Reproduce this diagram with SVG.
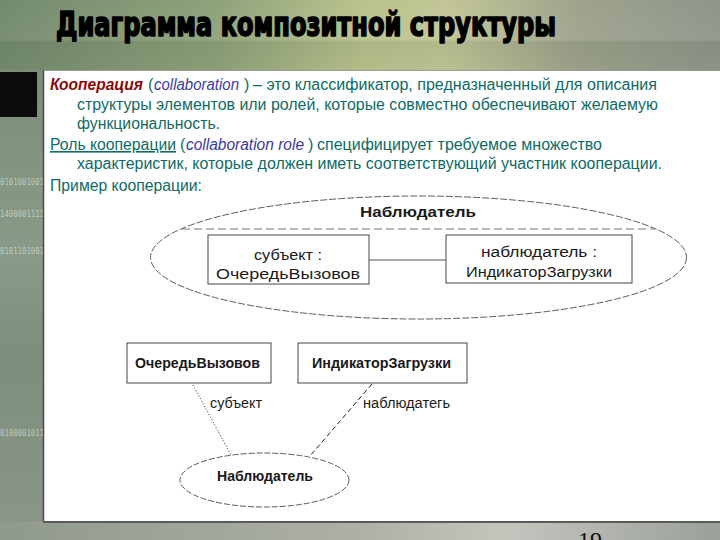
<svg xmlns="http://www.w3.org/2000/svg" width="720" height="540" viewBox="0 0 720 540">
<defs>
<linearGradient id="bgH" x1="0" y1="0" x2="1" y2="0">
<stop offset="0" stop-color="#738a6e"/>
<stop offset="0.3" stop-color="#8ea27a"/>
<stop offset="0.5" stop-color="#b9c28c"/>
<stop offset="0.62" stop-color="#c2c696"/>
<stop offset="0.8" stop-color="#9ea38c"/>
<stop offset="1" stop-color="#8e968a"/>
</linearGradient>
<linearGradient id="bandV" x1="0" y1="0" x2="0" y2="1">
<stop offset="0" stop-color="#ffffff" stop-opacity="0"/>
<stop offset="0.55" stop-color="#ffffff" stop-opacity="0.05"/>
<stop offset="0.6" stop-color="#40503a" stop-opacity="0.12"/>
<stop offset="1" stop-color="#40503a" stop-opacity="0.05"/>
</linearGradient>
<linearGradient id="leftV" x1="0" y1="0" x2="0" y2="1">
<stop offset="0" stop-color="#7c8e7a"/>
<stop offset="0.4" stop-color="#8a9a88"/>
<stop offset="0.6" stop-color="#7d8e7c"/>
<stop offset="1" stop-color="#8a968a"/>
</linearGradient>
<linearGradient id="botH" x1="0" y1="0" x2="1" y2="0">
<stop offset="0" stop-color="#8f9a8c"/>
<stop offset="0.5" stop-color="#aeb0a6"/>
<stop offset="0.7" stop-color="#c4c6be"/>
<stop offset="1" stop-color="#9aa098"/>
</linearGradient>
<style>
.t{font-family:"Liberation Sans",Arial,sans-serif;font-size:16px;fill:#0e6b66}
.it{font-style:italic;fill:#3a3aa0}
.bi{font-weight:bold;font-style:italic;fill:#8b0a0a}
.d{font-family:"Liberation Sans",Arial,sans-serif;font-size:14px;fill:#1a1a1a}
.db{font-family:"Liberation Sans",Arial,sans-serif;font-size:14px;font-weight:bold;fill:#1a1a1a}
.box{fill:#fff;stroke:#444;stroke-width:1}
.bin{font-family:"DejaVu Sans Mono",monospace;font-size:8px;fill:#d8e0d8;fill-opacity:0.7}
</style>
</defs>

<!-- background -->
<rect x="0" y="0" width="720" height="540" fill="url(#bgH)"/>
<rect x="0" y="0" width="720" height="70" fill="url(#bandV)"/>
<rect x="0" y="70" width="44" height="470" fill="url(#leftV)"/>
<rect x="0" y="521" width="720" height="19" fill="url(#botH)"/>
<text class="bin" x="0" y="185" textLength="44" lengthAdjust="spacingAndGlyphs">0101001001</text>
<text class="bin" x="0" y="217" textLength="44" lengthAdjust="spacingAndGlyphs">1400001111</text>
<text class="bin" x="0" y="254" textLength="44" lengthAdjust="spacingAndGlyphs">0101101001</text>
<text class="bin" x="0" y="436" textLength="44" lengthAdjust="spacingAndGlyphs">0100001011</text>
<rect x="0" y="72" width="37" height="45" fill="#0b0b0b"/>

<!-- title -->
<text x="56" y="36" font-family="'DejaVu Sans Condensed','DejaVu Sans',sans-serif" font-weight="bold" font-size="33" fill="#000" stroke="#000" stroke-width="1.6" stroke-linejoin="round" textLength="500" lengthAdjust="spacingAndGlyphs">Диаграмма композитной структуры</text>

<!-- panel -->
<rect x="44" y="70" width="676" height="451" fill="#ffffff"/>
<line x1="43.5" y1="70" x2="43.5" y2="522" stroke="#4a4a4a" stroke-width="1.5"/>
<line x1="43" y1="522" x2="720" y2="522" stroke="#5a5a5a" stroke-width="2"/>
<line x1="44" y1="70.5" x2="720" y2="70.5" stroke="#9aa090" stroke-width="1"/>

<!-- page number (cut at the bottom edge, as in the slide) -->
<text x="578" y="548" font-family="'Liberation Serif',serif" font-size="24" fill="#111">19</text>

<!-- text block -->
<g id="text-block">
<text class="t bi" x="50" y="90" textLength="93" lengthAdjust="spacingAndGlyphs">Кооперация</text>
<text class="t" x="148" y="90">(</text>
<text class="t it" x="154" y="90" textLength="85" lengthAdjust="spacingAndGlyphs">collaboration</text>
<text class="t" x="244" y="90">)</text>
<text class="t" x="253" y="90" textLength="404" lengthAdjust="spacingAndGlyphs">– это классификатор, предназначенный для описания</text>
<text class="t" x="77" y="109.5" textLength="581" lengthAdjust="spacingAndGlyphs">структуры элементов или ролей, которые совместно обеспечивают желаемую</text>
<text class="t" x="77" y="128.5" textLength="143" lengthAdjust="spacingAndGlyphs">функциональность.</text>
<text class="t" x="50" y="150" textLength="126" lengthAdjust="spacingAndGlyphs" text-decoration="underline">Роль кооперации</text>
<text class="t" x="180" y="150">(</text>
<text class="t it" x="186" y="150" textLength="118" lengthAdjust="spacingAndGlyphs">collaboration role</text>
<text class="t" x="308" y="150">)</text>
<text class="t" x="317" y="150" textLength="285" lengthAdjust="spacingAndGlyphs">специфицирует требуемое множество</text>
<text class="t" x="77" y="169" textLength="585" lengthAdjust="spacingAndGlyphs">характеристик, которые должен иметь соответствующий участник кооперации.</text>
<text class="t" x="50" y="191" textLength="152" lengthAdjust="spacingAndGlyphs">Пример кооперации:</text>
</g>

<!-- top diagram: collaboration with internal structure -->
<g id="collab-top">
<ellipse cx="418.5" cy="257.5" rx="268" ry="61.5" fill="none" stroke="#333" stroke-width="0.8" stroke-dasharray="7,2"/>
<line x1="182" y1="229" x2="655" y2="229" stroke="#777" stroke-width="1" stroke-dasharray="8,4"/>
<text class="db" x="360" y="217" font-size="15" textLength="116" lengthAdjust="spacingAndGlyphs">Наблюдатель</text>
</g>
<g id="role-subject">
<rect class="box" x="208" y="235" width="161" height="49"/>
<text class="d" x="254" y="260" textLength="68" lengthAdjust="spacingAndGlyphs">субъект :</text>
<text class="d" x="216" y="279" textLength="144" lengthAdjust="spacingAndGlyphs">ОчередьВызовов</text>
</g>
<g id="role-observer">
<rect class="box" x="446" y="235" width="186" height="48"/>
<text class="d" x="481" y="257" textLength="116" lengthAdjust="spacingAndGlyphs">наблюдатель :</text>
<text class="d" x="466" y="277" textLength="146" lengthAdjust="spacingAndGlyphs">ИндикаторЗагрузки</text>
</g>

<!-- bottom diagram -->
<g id="class-queue">
<rect class="box" x="127" y="343" width="144" height="40"/>
<text class="db" x="135" y="368" textLength="125" lengthAdjust="spacingAndGlyphs">ОчередьВызовов</text>
</g>
<g id="class-indicator">
<rect class="box" x="298" y="343" width="169" height="40"/>
<text class="db" x="312" y="368" textLength="139" lengthAdjust="spacingAndGlyphs">ИндикаторЗагрузки</text>
</g>
<g id="collab-bottom">
<ellipse cx="264.5" cy="480" rx="84.5" ry="27" fill="#fff" stroke="#333" stroke-width="0.8" stroke-dasharray="6,2"/>
<text class="db" x="217" y="481" textLength="96" lengthAdjust="spacingAndGlyphs">Наблюдатель</text>
</g>

<!-- connectors -->
<g id="connectors" fill="none" stroke="#222">
<line x1="369" y1="260" x2="446" y2="260" stroke="#555" stroke-width="1"/>
<line x1="193" y1="385" x2="231" y2="455" stroke-width="1" stroke-dasharray="1,2"/>
<line x1="372" y1="384" x2="310" y2="456" stroke-width="1" stroke-dasharray="5,3"/>
</g>
<g id="connector-labels">
<text class="d" x="210" y="408" textLength="52" lengthAdjust="spacingAndGlyphs">субъект</text>
<text class="d" x="363" y="408" textLength="87" lengthAdjust="spacingAndGlyphs">наблюдатегь</text>
</g>
</svg>
